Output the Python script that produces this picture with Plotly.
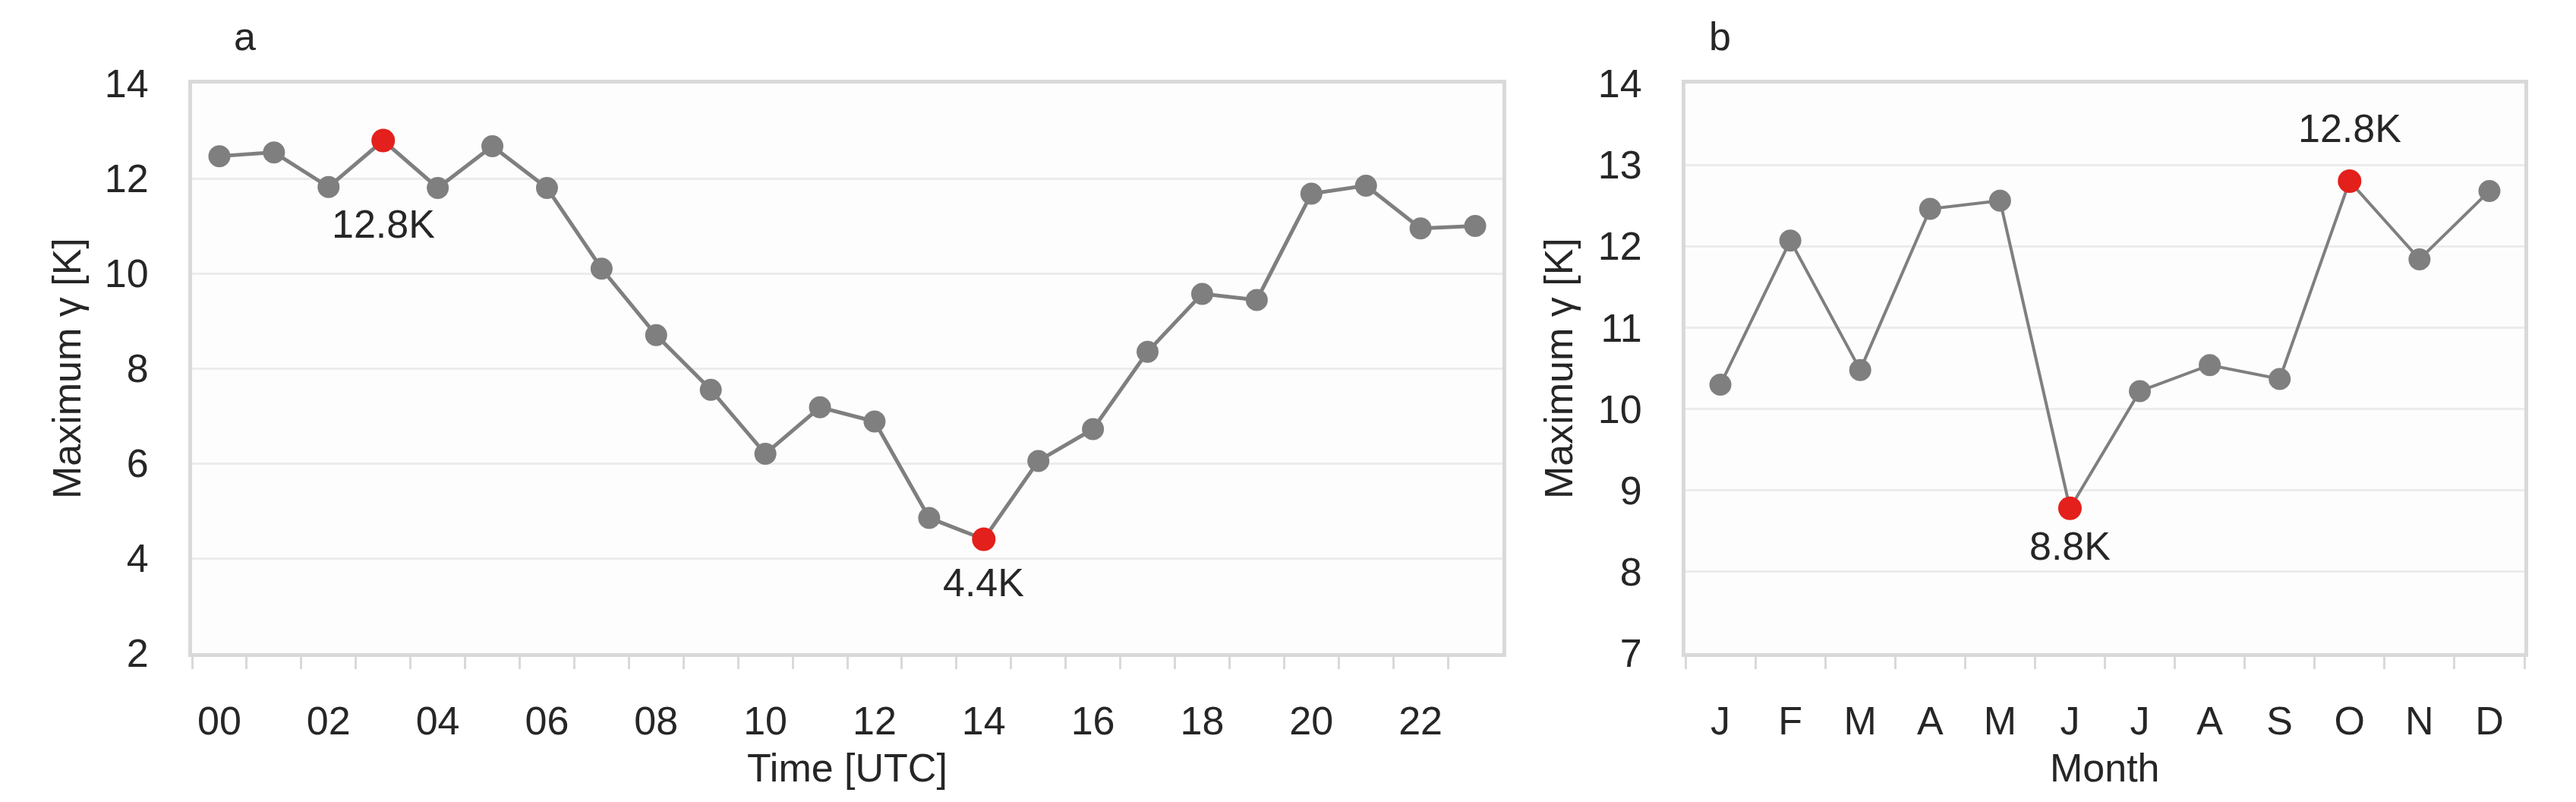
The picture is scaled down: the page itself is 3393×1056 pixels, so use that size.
import plotly.graph_objects as go

# ---- data ----
hours = [f"{h:02d}" for h in range(24)]
hour_ticktext = [h if i % 2 == 0 else "" for i, h in enumerate(hours)]
gamma_hour = [12.47, 12.55, 11.82, 12.8, 11.8, 12.68, 11.8, 10.1, 8.7, 7.55, 6.2, 7.18,
              6.88, 4.85, 4.4, 6.05, 6.72, 8.35, 9.57, 9.44, 11.68, 11.85, 10.95, 11.0]

month_keys = ["Jan", "Feb", "Mar", "Apr", "May", "Jun", "Jul", "Aug", "Sep", "Oct", "Nov", "Dec"]
month_labels = ["J", "F", "M", "A", "M", "J", "J", "A", "S", "O", "N", "D"]
gamma_month = [10.3, 12.07, 10.48, 12.46, 12.56, 8.78, 10.22, 10.54, 10.37, 12.8, 11.84, 12.68]

hour_hi = [("03", 12.8, "12.8K", -110), ("14", 4.4, "4.4K", -57)]
month_hi = [("Jun", 8.78, "8.8K", -50), ("Oct", 12.8, "12.8K", 70)]

FONT = "Liberation Sans, Arial, sans-serif"
FS = 52
GRAY = "#7f7f7f"
RED = "#e3201b"
GRID = "#ececec"
BORDER = "#d9d9d9"
TXT = "#262626"

fig = go.Figure()

fig.add_trace(go.Scatter(x=hours, y=gamma_hour, mode="lines+markers",
                         line=dict(color=GRAY, width=5),
                         marker=dict(color=GRAY, size=29),
                         xaxis="x", yaxis="y", showlegend=False))
fig.add_trace(go.Scatter(x=[h[0] for h in hour_hi], y=[h[1] for h in hour_hi], mode="markers",
                         marker=dict(color=RED, size=31),
                         xaxis="x", yaxis="y", showlegend=False))
fig.add_trace(go.Scatter(x=month_keys, y=gamma_month, mode="lines+markers",
                         line=dict(color=GRAY, width=4),
                         marker=dict(color=GRAY, size=29),
                         xaxis="x2", yaxis="y2", showlegend=False))
fig.add_trace(go.Scatter(x=[m[0] for m in month_hi], y=[m[1] for m in month_hi], mode="markers",
                         marker=dict(color=RED, size=31),
                         xaxis="x2", yaxis="y2", showlegend=False))

W, H = 3393, 1056
ydom = [1 - 852 / H, 1 - 102 / H]
xa_dom = [245 / W, 1971 / W]
xb_dom = [2212 / W, 3317 / W]

common_x = dict(type="category", showline=True, linecolor=BORDER, linewidth=5, mirror=True,
                showgrid=False, ticks="outside", tickson="boundaries", ticklen=16,
                tickcolor=BORDER, tickwidth=3, ticklabelstandoff=40, tickangle=0,
                automargin=False,
                tickfont=dict(family=FONT, size=FS, color=TXT), zeroline=False)
common_y = dict(showline=True, linecolor=BORDER, linewidth=5, mirror=True,
                showgrid=True, gridcolor=GRID, gridwidth=3, ticks="",
                ticklabelstandoff=42, zeroline=False, automargin=False,
                tickfont=dict(family=FONT, size=FS, color=TXT))

annotations = []
for x, y, t, sh in hour_hi:
    annotations.append(dict(x=x, y=y, xref="x", yref="y", text=t, showarrow=False, yshift=sh,
                            font=dict(family=FONT, size=FS, color=TXT)))
for x, y, t, sh in month_hi:
    annotations.append(dict(x=x, y=y, xref="x2", yref="y2", text=t, showarrow=False, yshift=sh,
                            font=dict(family=FONT, size=FS, color=TXT)))


def paper_text(xpx, ypx, text, angle=0):
    return dict(x=xpx / W, y=1 - ypx / H, xref="paper", yref="paper", text=text,
                textangle=angle, showarrow=False, xanchor="center", yanchor="middle",
                font=dict(family=FONT, size=FS, color=TXT))


annotations += [
    paper_text(314, 40, "a"),
    paper_text(2257, 40, "b"),
    paper_text(80, (102 + 852) / 2, "Maximum γ [K]", -90),
    paper_text(2045, (102 + 852) / 2, "Maximum γ [K]", -90),
    paper_text((245 + 1971) / 2, 1003, "Time [UTC]"),
    paper_text((2212 + 3317) / 2, 1003, "Month"),
]

fig.update_layout(
    width=W, height=H,
    margin=dict(l=0, r=0, t=0, b=0, autoexpand=False),
    paper_bgcolor="white", plot_bgcolor="#fdfdfd",
    xaxis=dict(domain=xa_dom, anchor="y", categoryorder="array", categoryarray=hours,
               tickmode="array", tickvals=hours, ticktext=hour_ticktext,
               range=[-0.5, 23.5], **common_x),
    yaxis=dict(domain=ydom, anchor="x", range=[2, 14], tickvals=[2, 4, 6, 8, 10, 12, 14], **common_y),
    xaxis2=dict(domain=xb_dom, anchor="y2", categoryorder="array", categoryarray=month_keys,
                tickmode="array", tickvals=month_keys, ticktext=month_labels,
                range=[-0.5, 11.5], **common_x),
    yaxis2=dict(domain=ydom, anchor="x2", range=[7, 14], tickvals=[7, 8, 9, 10, 11, 12, 13, 14], **common_y),
    annotations=annotations,
)

fig.write_html("out.html")
